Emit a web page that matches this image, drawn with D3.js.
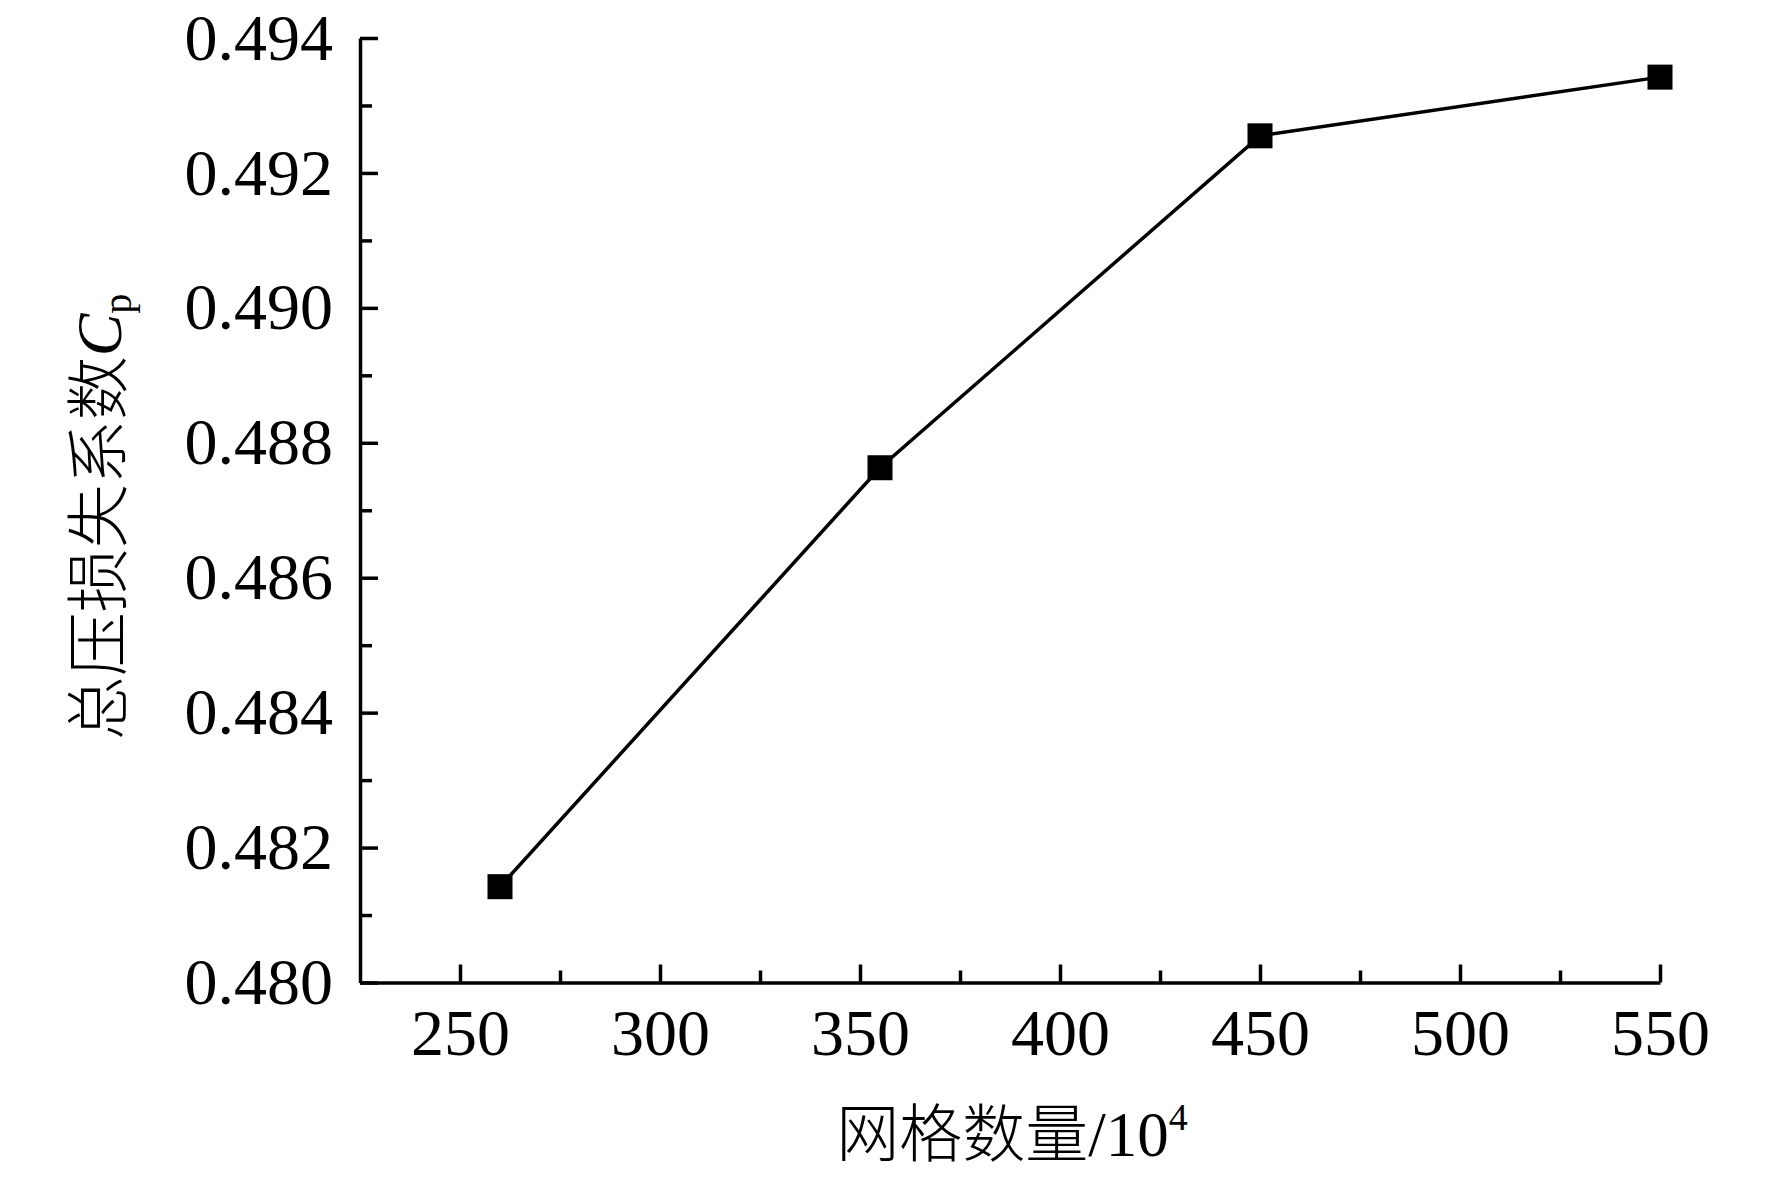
<!DOCTYPE html>
<html>
<head>
<meta charset="utf-8">
<script src="https://cdn.jsdelivr.net/npm/d3@7"></script>
<style>
  body { margin: 0; background: #fff; }
  svg { display: block; }
  .axis text { font-family: "Liberation Serif", "Times New Roman", serif; font-size: 66px; fill: #000; }
  .axis path, .axis line { stroke: #000; stroke-width: 3.5; }
</style>
</head>
<body>
<div id="chart"></div>
<script>
// data
const meshCounts = [260, 355, 450, 550];
const cpValues = [0.48142, 0.48763, 0.49255, 0.49342];
const xMajorTicks = [250, 300, 350, 400, 450, 500, 550];
const xMinorTicks = [275, 325, 375, 425, 475, 525];
const yMajorTicks = [0.480, 0.482, 0.484, 0.486, 0.488, 0.490, 0.492, 0.494];
const yMinorTicks = [0.481, 0.483, 0.485, 0.487, 0.489, 0.491, 0.493];

const W = 1772, H = 1177;
const margin = {top: 38, right: 112, bottom: 194.5, left: 360},
    width = W - margin.left - margin.right,
    height = H - margin.top - margin.bottom;

const svg = d3.select("#chart")
  .append("svg")
    .attr("width", W)
    .attr("height", H)
  .append("g")
    .attr("transform", `translate(${margin.left}, ${margin.top})`);

const x = d3.scaleLinear()
  .domain([225, 550])
  .range([0, width]);

const y = d3.scaleLinear()
  .domain([0.480, 0.494])
  .range([height, 0]);

// X axis
const xAxis = svg.append("g")
  .attr("class", "axis")
  .attr("transform", `translate(0, ${height})`)
  .call(d3.axisBottom(x).tickValues(xMajorTicks).tickSizeInner(-18).tickSizeOuter(0).tickFormat(d3.format("d")));
xAxis.selectAll("text")
  .attr("y", 72)
  .attr("dy", "0");
svg.append("g")
  .attr("class", "axis")
  .attr("transform", `translate(0, ${height})`)
  .call(d3.axisBottom(x).tickValues(xMinorTicks).tickSizeInner(-12).tickSizeOuter(0).tickFormat(""))
  .select(".domain").remove();

// Y axis
svg.append("g")
  .attr("class", "axis")
  .call(d3.axisLeft(y).tickValues(yMajorTicks).tickSizeInner(-18).tickSizeOuter(0).tickPadding(27).tickFormat(d3.format(".3f")));
svg.append("g")
  .attr("class", "axis")
  .call(d3.axisLeft(y).tickValues(yMinorTicks).tickSizeInner(-12).tickSizeOuter(0).tickFormat(""))
  .select(".domain").remove();

// line
const line = d3.line()
  .x((d, i) => x(meshCounts[i]))
  .y(d => y(d));

svg.append("path")
  .datum(cpValues)
  .attr("fill", "none")
  .attr("stroke", "#000")
  .attr("stroke-width", 3.5)
  .attr("d", line);

// square markers
const s = 25;
svg.selectAll("rect.marker")
  .data(cpValues)
  .enter()
  .append("rect")
    .attr("class", "marker")
    .attr("x", (d, i) => x(meshCounts[i]) - s / 2)
    .attr("y", d => y(d) - s / 2)
    .attr("width", s)
    .attr("height", s)
    .attr("fill", "#000");

// x title
const xt = svg.append("text")
  .attr("x", 1012 - margin.left)
  .attr("y", height + 173)
  .attr("text-anchor", "middle")
  .style("font-size", "63px")
  .style("fill", "#000");
xt.append("tspan")
  .style("font-family", "'Noto Sans CJK SC', sans-serif")
  .style("font-weight", 300)
  .text("网格数量");
xt.append("tspan")
  .style("font-family", "'Liberation Serif', serif")
  .text("/10");
xt.append("tspan")
  .style("font-family", "'Liberation Serif', serif")
  .style("font-size", "38px")
  .attr("dy", "-26")
  .text("4");

// y title
const yt = svg.append("text")
  .attr("transform", `translate(${121 - margin.left}, ${517 - margin.top}) rotate(-90)`)
  .attr("text-anchor", "middle")
  .style("font-size", "64px")
  .style("fill", "#000");
yt.append("tspan")
  .style("font-family", "'Noto Sans CJK SC', sans-serif")
  .style("font-weight", 300)
  .text("总压损失系数");
yt.append("tspan")
  .style("font-family", "'Liberation Serif', serif")
  .style("font-style", "italic")
  .text("C");
yt.append("tspan")
  .style("font-family", "'Liberation Serif', serif")
  .style("font-size", "40px")
  .attr("dy", "10")
  .text("p");
</script>
</body>
</html>
